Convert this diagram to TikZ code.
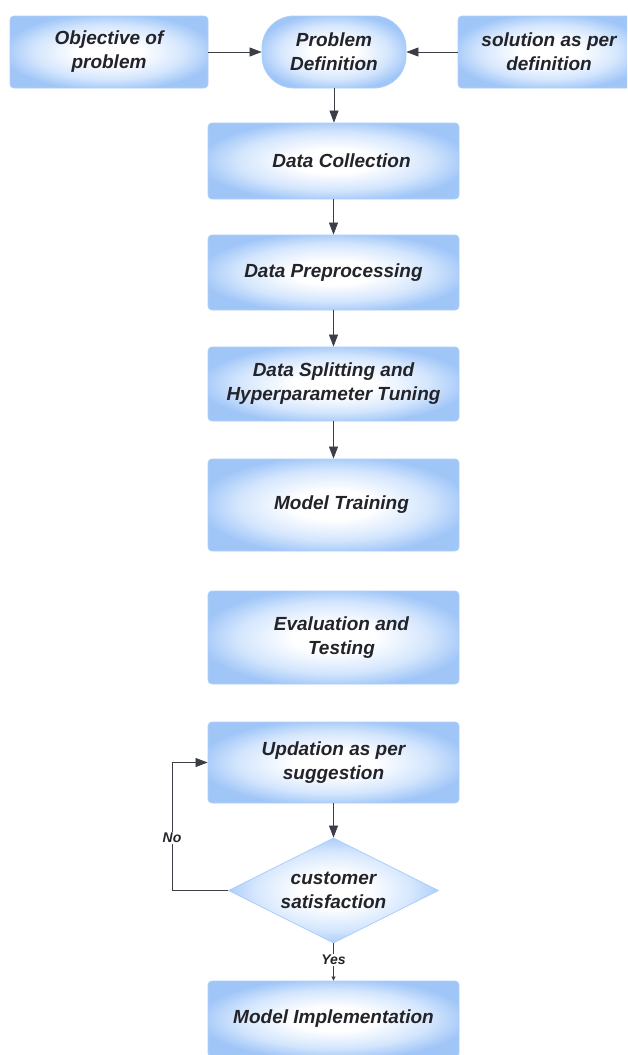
\documentclass[tikz,border=0pt]{standalone}
\usepackage{fontspec}
\setmainfont{Liberation Sans}
\usetikzlibrary{shapes.geometric,arrows.meta}
\definecolor{boxblue}{RGB}{160,198,248}
\definecolor{boxmid}{RGB}{212,230,253}
\definecolor{edgeblue}{RGB}{172,206,250}
\definecolor{linegray}{RGB}{60,62,70}
\definecolor{txt}{RGB}{35,35,42}
\pgfdeclareradialshading{boxshade}{\pgfpoint{0bp}{0bp}}{color(0bp)=(white); color(8bp)=(white); color(19bp)=(boxmid); color(27bp)=(boxblue); color(50bp)=(boxblue)}
\begin{document}
\begin{tikzpicture}[x=1pt,y=-1pt,
  box/.style={draw=edgeblue, line width=0.8pt, rounded corners=4pt, shading=boxshade,
    minimum width=251pt, minimum height=76pt, inner sep=0pt, align=center,
    font=\fontsize{19}{24}\selectfont\bfseries\itshape, text=txt},
  diastyle/.style={diamond, aspect=2, draw=edgeblue, line width=0.8pt, shading=boxshade,
    minimum width=210pt, minimum height=105pt, inner sep=0pt, align=center,
    font=\fontsize{19}{24}\selectfont\bfseries\itshape, text=txt},
  arr/.style={draw=linegray, line width=0.7pt, -{Triangle[length=12pt,width=9pt]}},
  smallarr/.style={draw=linegray, line width=0.7pt, -{Triangle[length=4pt,width=4pt]}},
  lbl/.style={fill=white, inner sep=1pt, text=txt, font=\fontsize{14}{16}\selectfont\bfseries\itshape}
]
\path[use as bounding box, clip] (0,0) rectangle (627,1055);

\node[box, minimum width=198pt, minimum height=72pt] (obj) at (109,52) {Objective of\\problem};
\node[box, rounded corners=32pt, minimum width=144pt, minimum height=72pt] (pd) at (334,52) {Problem\\Definition};
\node[box, minimum width=182pt, minimum height=72pt] (sol) at (549,52) {solution as per\\definition};
\node[box] (dc) at (333.5,161) {\hspace*{16pt}Data Collection};
\node[box, minimum height=75pt] (dp) at (333.5,272.5) {Data Preprocessing};
\node[box, minimum height=74pt] (ds) at (333.5,384) {Data Splitting and\\Hyperparameter Tuning};
\node[box, minimum height=92pt] (mt) at (333.5,505) {\hspace*{16pt}Model Training};
\node[box, minimum height=93pt] (ev) at (333.5,637.5) {\hspace*{16pt}Evaluation and\\\hspace*{16pt}Testing};
\node[box, minimum height=81pt] (up) at (333.5,762.5) {Updation as per\\suggestion};
\node[diastyle] (cs) at (333.5,890.5) {customer\\satisfaction};
\node[box] (mi) at (333.5,1019) {Model Implementation};

\draw[arr] (obj.east) -- (pd.west);
\draw[arr] (sol.west) -- (pd.east);
\draw[arr] (pd.south) -- (pd.south |- dc.north);
\draw[arr] (dc.south) -- (dp.north);
\draw[arr] (dp.south) -- (ds.north);
\draw[arr] (ds.south) -- (mt.north);
\draw[arr] (up.south) -- (cs.north);
\draw[smallarr] (cs.south) -- node[lbl, pos=0.45] (yes) {Yes} (mi.north);
\coordinate (nl) at (172,890.5);
\draw[arr] (cs.west) -- (nl) -- node[lbl, pos=0.41] (no) {No} (nl |- up.west) -- (up.west);
\end{tikzpicture}
\end{document}
